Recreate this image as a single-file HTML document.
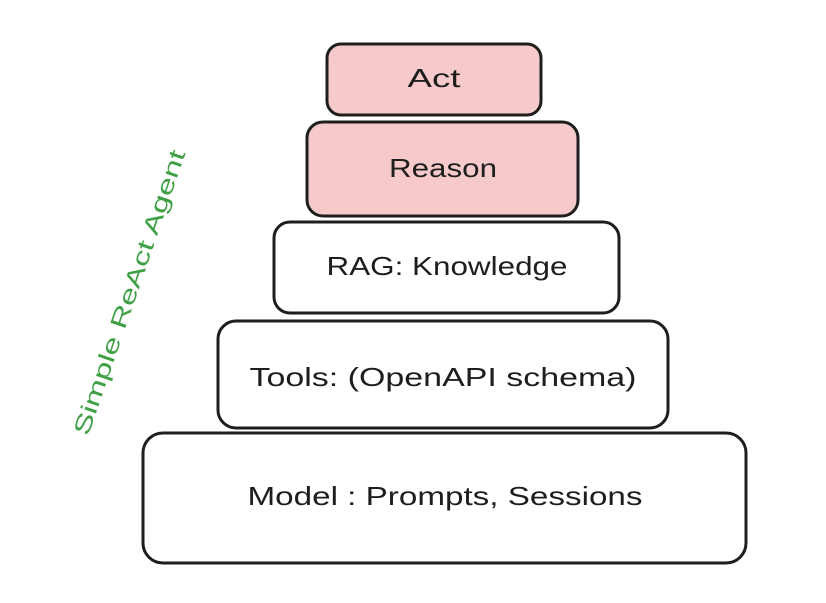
<!DOCTYPE html>
<html><head><style>html,body{margin:0;padding:0;background:#fff;}</style></head>
<body>
<svg width="826" height="598" viewBox="0 0 826 598" xmlns="http://www.w3.org/2000/svg" font-family="Liberation Sans, sans-serif">
<rect width="826" height="598" fill="#fff"/>
<g stroke="#1e1e1e" stroke-width="3">
<rect x="327" y="44" width="214" height="71" rx="14" fill="#f6caca"/>
<rect x="307" y="122" width="271" height="94" rx="16" fill="#f6caca"/>
<rect x="274" y="222" width="345" height="91" rx="16" fill="#fff"/>
<rect x="218" y="321" width="450" height="107" rx="18" fill="#fff"/>
<rect x="143" y="433" width="603" height="130" rx="20" fill="#fff"/>
</g>
<g fill="#1e1e1e" font-size="26" text-anchor="middle">
<text x="434" y="87" textLength="53" lengthAdjust="spacingAndGlyphs">Act</text>
<text x="443" y="177" textLength="108" lengthAdjust="spacingAndGlyphs">Reason</text>
<text x="447" y="275" textLength="241" lengthAdjust="spacingAndGlyphs">RAG: Knowledge</text>
<text x="443" y="386" textLength="387" lengthAdjust="spacingAndGlyphs">Tools: (OpenAPI schema)</text>
<text x="445" y="505" textLength="395" lengthAdjust="spacingAndGlyphs">Model : Prompts, Sessions</text>
</g>
<text x="0" y="0" transform="translate(131,293) rotate(-71)" fill="#40a045" font-size="23" text-anchor="middle" dominant-baseline="middle" textLength="300" lengthAdjust="spacingAndGlyphs">Simple ReAct Agent</text>
</svg>
</body></html>
